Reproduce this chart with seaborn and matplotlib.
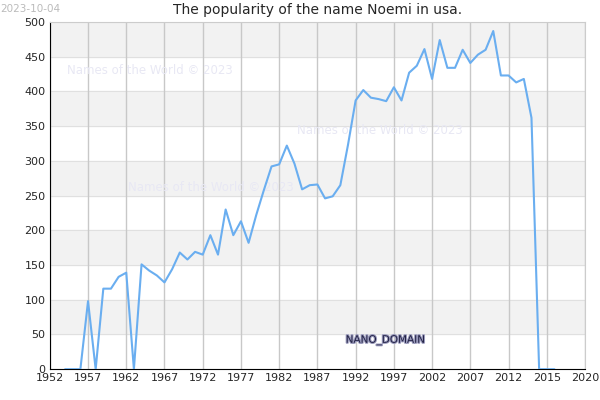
import matplotlib
matplotlib.use("Agg")
import matplotlib.pyplot as plt
import matplotlib.patheffects as pe
import seaborn as sns
import pandas as pd

years = list(range(1954, 2019))
values = [0, 0, 0, 98, 0, 116, 116, 133, 139, 0, 151, 142, 135, 125, 144, 168, 158, 169, 165, 193,
          165, 230, 193, 213, 182, 222, 258, 292, 295, 322, 296, 259, 265, 266, 246, 249, 265, 323,
          387, 402, 391, 389, 386, 406, 387, 427, 437, 461, 418, 474, 434, 434, 460, 441, 453, 460,
          487, 423, 423, 413, 418, 362, 0, 0, 0]
xtick_pos = list(range(1952, 2023, 5))
xtick_labels = ["1952", "1957", "1962", "1967", "1972", "1977", "1982", "1987", "1992", "1997",
                "2002", "2007", "2012", "2015", "2020"]
yticks = list(range(0, 501, 50))

df = pd.DataFrame({"year": years, "value": values})
sns.set_style("white")
plt.rcParams['font.family'] = ['DejaVu Sans']
fig = plt.figure(figsize=(6, 4), dpi=100)
ax = fig.add_axes([0.083, 0.077, 0.892, 0.868])
for i in range(0, 10):
    if i % 2 == 1:
        ax.axhspan(i * 50, i * 50 + 50, color="#f2f2f2", zorder=0)
for y in yticks:
    ax.axhline(y, color="#e0e0e0", lw=0.8, zorder=0.5)
for x in xtick_pos:
    ax.axvline(x, color="#c8c8c8", lw=1, zorder=0.6)
sns.lineplot(data=df, x="year", y="value", ax=ax, color="#6aaef0", lw=1.5, zorder=3)
ax.set_xlim(1952, 2022)
ax.set_ylim(0, 500)
ax.set_xticks(xtick_pos)
ax.set_xticklabels(xtick_labels)
ax.set_yticks(yticks)
ax.tick_params(labelsize=8, length=0, pad=3)
ax.set_xlabel("")
ax.set_ylabel("")
for s in ["left", "bottom"]:
    ax.spines[s].set_color("black")
for s in ["top", "right"]:
    ax.spines[s].set_color("#cccccc")
ax.set_title("The popularity of the name Noemi in usa.", fontsize=10, pad=6)
wm = dict(color="#e8e8f4", fontsize=8.5, zorder=1)
ax.text(1954.3, 425, "Names of the World © 2023", **wm)
ax.text(1984.3, 338, "Names of the World © 2023", **wm)
ax.text(1962.2, 257, "Names of the World © 2023", **wm)
ax.text(1990.7, 38, "NANO_DOMAIN", fontsize=7.5, color="#222244", zorder=4,
        path_effects=[pe.withStroke(linewidth=1.5, foreground="#9999bb")])
fig.text(0.0, 0.99, "2023-10-04", fontsize=7.5, color="#bbbbbb", va="top")
fig.savefig("out.png")
